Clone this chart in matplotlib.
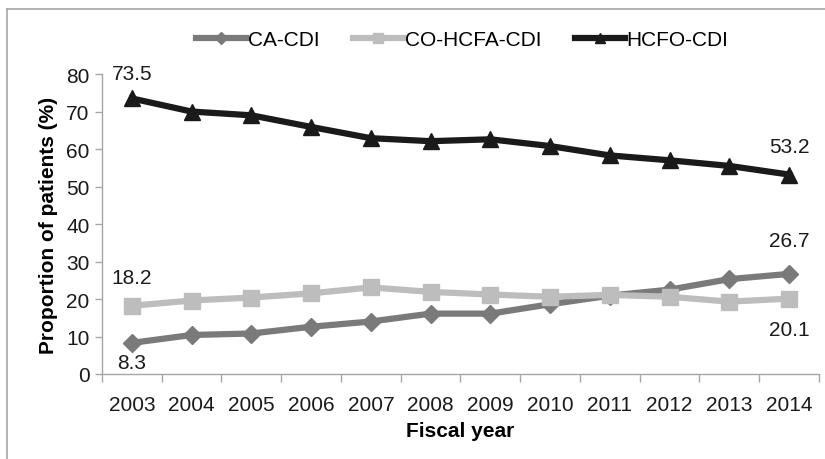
import numpy as np
import matplotlib
matplotlib.use("Agg")
import matplotlib.pyplot as plt
from matplotlib.lines import Line2D

years = ['2003', '2004', '2005', '2006', '2007', '2008',
         '2009', '2010', '2011', '2012', '2013', '2014']
ca_cdi = [8.3, 10.4, 10.8, 12.6, 14.0, 16.1, 16.1, 18.6, 20.9, 22.5, 25.3, 26.7]
co_hcfa_cdi = [18.2, 19.6, 20.4, 21.5, 23.1, 21.9, 21.2, 20.6, 21.1, 20.6, 19.3, 20.1]
hcfo_cdi = [73.5, 70.0, 69.0, 65.9, 62.9, 62.1, 62.6, 60.8, 58.3, 57.0, 55.5, 53.2]

plt.rcParams['font.family'] = ['Liberation Sans', 'DejaVu Sans']

fig = plt.figure(figsize=(8.25, 4.6), dpi=100)
ax = fig.add_axes([0.1236, 0.1848, 0.869, 0.652])

x = np.arange(len(years))
series = [
    ('CA-CDI', ca_cdi, '#7a7a7a', 'D', 9),
    ('CO-HCFA-CDI', co_hcfa_cdi, '#bdbdbd', 's', 11.5),
    ('HCFO-CDI', hcfo_cdi, '#1a1a1a', '^', 11),
]
handles = []
for name, vals, col, mk, ms in series:
    ax.plot(x, vals, color=col, lw=4.5, marker=mk, markersize=ms,
            markeredgecolor=col, markerfacecolor=col, label=name)
    handles.append(Line2D([0], [0], color=col, lw=4.5, marker=mk,
                          markersize=ms * 0.65, markeredgecolor=col,
                          markerfacecolor=col))

# end-point labels
fs = 15
def lab(i, vals, dy):
    ax.annotate(f"{vals[i]:.1f}", (x[i], vals[i]), xytext=(0, dy),
                textcoords='offset points', ha='center', va='center',
                fontsize=fs, color='#1a1a1a')

lab(0, hcfo_cdi, 18)
lab(-1, hcfo_cdi, 20)
lab(0, co_hcfa_cdi, 20)
lab(-1, co_hcfa_cdi, -22)
lab(0, ca_cdi, -14)
lab(-1, ca_cdi, 24)

ax.set_xlim(-0.5, len(years) - 0.5)
ax.set_ylim(0, 80)
ax.set_yticks(np.arange(0, 81, 10))
ax.set_xticks(x)
ax.set_xticklabels(years)
ax.set_xticks(np.arange(-0.5, len(years)), minor=True)
ax.tick_params(axis='x', which='major', length=0, pad=15, labelsize=fs,
               labelcolor='#1a1a1a')
ax.tick_params(axis='x', which='minor', length=6, color='#a6a6a6', width=1)
ax.tick_params(axis='y', length=5, color='#a6a6a6', width=1, labelsize=fs,
               labelcolor='#1a1a1a', pad=4)
for s in ['top', 'right']:
    ax.spines[s].set_visible(False)
for s in ['left', 'bottom']:
    ax.spines[s].set_color('#a6a6a6')
    ax.spines[s].set_linewidth(1)

ax.set_xlabel('Fiscal year', fontsize=fs, fontweight='bold', labelpad=5)
ax.set_ylabel('Proportion of patients (%)', fontsize=fs, fontweight='bold',
              labelpad=6)

fig.legend(handles, [s[0] for s in series], loc='center',
           bbox_to_anchor=(0.56, 0.912), ncol=3, frameon=False,
           fontsize=fs, handlelength=2.4, handletextpad=0.1,
           columnspacing=1.6)

# outer chart frame (top and left edges visible)
fig.add_artist(Line2D([7 / 825, 1], [1 - 10 / 460, 1 - 10 / 460],
                      color='#a6a6a6', lw=1.2, transform=fig.transFigure))
fig.add_artist(Line2D([7 / 825, 7 / 825], [0, 1 - 10 / 460],
                      color='#a6a6a6', lw=1.2, transform=fig.transFigure))

fig.savefig('out.png', dpi=100)
